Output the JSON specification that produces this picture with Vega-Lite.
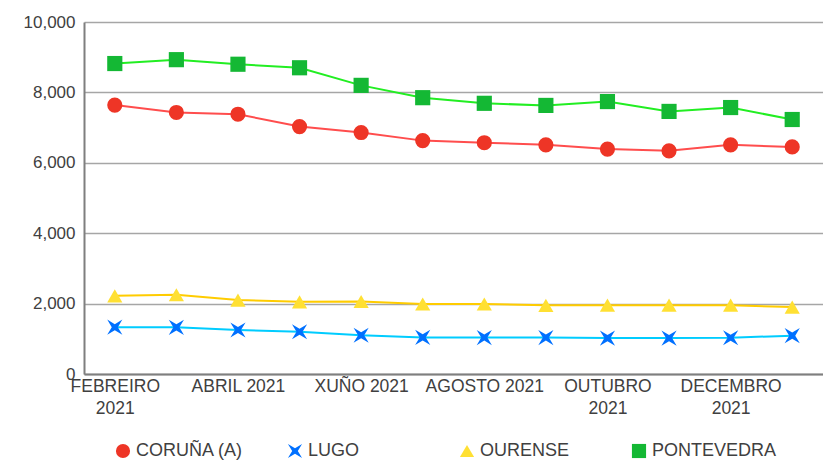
{
  "$schema": "https://vega.github.io/schema/vega-lite/v6.json",
  "width": 739,
  "height": 352,
  "autosize": {"type": "none"},
  "padding": {"left": 84, "top": 22, "right": 0, "bottom": 89},
  "background": "white",
  "config": {
    "font": "Liberation Sans",
    "view": {"stroke": null}
  },
  "data": {
    "values": [
      {"mes": "FEBREIRO 2021", "provincia": "CORUÑA (A)", "valor": 7640},
      {"mes": "MARZO 2021", "provincia": "CORUÑA (A)", "valor": 7430},
      {"mes": "ABRIL 2021", "provincia": "CORUÑA (A)", "valor": 7380},
      {"mes": "MAIO 2021", "provincia": "CORUÑA (A)", "valor": 7030},
      {"mes": "XUÑO 2021", "provincia": "CORUÑA (A)", "valor": 6860},
      {"mes": "XULLO 2021", "provincia": "CORUÑA (A)", "valor": 6630},
      {"mes": "AGOSTO 2021", "provincia": "CORUÑA (A)", "valor": 6570},
      {"mes": "SETEMBRO 2021", "provincia": "CORUÑA (A)", "valor": 6510},
      {"mes": "OUTUBRO 2021", "provincia": "CORUÑA (A)", "valor": 6390},
      {"mes": "NOVEMBRO 2021", "provincia": "CORUÑA (A)", "valor": 6340},
      {"mes": "DECEMBRO 2021", "provincia": "CORUÑA (A)", "valor": 6510},
      {"mes": "XANEIRO 2022", "provincia": "CORUÑA (A)", "valor": 6450},
      {"mes": "FEBREIRO 2021", "provincia": "LUGO", "valor": 1330},
      {"mes": "MARZO 2021", "provincia": "LUGO", "valor": 1325},
      {"mes": "ABRIL 2021", "provincia": "LUGO", "valor": 1250},
      {"mes": "MAIO 2021", "provincia": "LUGO", "valor": 1200},
      {"mes": "XUÑO 2021", "provincia": "LUGO", "valor": 1100},
      {"mes": "XULLO 2021", "provincia": "LUGO", "valor": 1040},
      {"mes": "AGOSTO 2021", "provincia": "LUGO", "valor": 1035},
      {"mes": "SETEMBRO 2021", "provincia": "LUGO", "valor": 1035},
      {"mes": "OUTUBRO 2021", "provincia": "LUGO", "valor": 1020},
      {"mes": "NOVEMBRO 2021", "provincia": "LUGO", "valor": 1020},
      {"mes": "DECEMBRO 2021", "provincia": "LUGO", "valor": 1030},
      {"mes": "XANEIRO 2022", "provincia": "LUGO", "valor": 1090},
      {"mes": "FEBREIRO 2021", "provincia": "OURENSE", "valor": 2220},
      {"mes": "MARZO 2021", "provincia": "OURENSE", "valor": 2250},
      {"mes": "ABRIL 2021", "provincia": "OURENSE", "valor": 2100},
      {"mes": "MAIO 2021", "provincia": "OURENSE", "valor": 2050},
      {"mes": "XUÑO 2021", "provincia": "OURENSE", "valor": 2060},
      {"mes": "XULLO 2021", "provincia": "OURENSE", "valor": 1990},
      {"mes": "AGOSTO 2021", "provincia": "OURENSE", "valor": 1990},
      {"mes": "SETEMBRO 2021", "provincia": "OURENSE", "valor": 1950},
      {"mes": "OUTUBRO 2021", "provincia": "OURENSE", "valor": 1955},
      {"mes": "NOVEMBRO 2021", "provincia": "OURENSE", "valor": 1955},
      {"mes": "DECEMBRO 2021", "provincia": "OURENSE", "valor": 1955},
      {"mes": "XANEIRO 2022", "provincia": "OURENSE", "valor": 1900},
      {"mes": "FEBREIRO 2021", "provincia": "PONTEVEDRA", "valor": 8820},
      {"mes": "MARZO 2021", "provincia": "PONTEVEDRA", "valor": 8930},
      {"mes": "ABRIL 2021", "provincia": "PONTEVEDRA", "valor": 8800},
      {"mes": "MAIO 2021", "provincia": "PONTEVEDRA", "valor": 8700},
      {"mes": "XUÑO 2021", "provincia": "PONTEVEDRA", "valor": 8200},
      {"mes": "XULLO 2021", "provincia": "PONTEVEDRA", "valor": 7850},
      {"mes": "AGOSTO 2021", "provincia": "PONTEVEDRA", "valor": 7690},
      {"mes": "SETEMBRO 2021", "provincia": "PONTEVEDRA", "valor": 7630},
      {"mes": "OUTUBRO 2021", "provincia": "PONTEVEDRA", "valor": 7740},
      {"mes": "NOVEMBRO 2021", "provincia": "PONTEVEDRA", "valor": 7460},
      {"mes": "DECEMBRO 2021", "provincia": "PONTEVEDRA", "valor": 7570},
      {"mes": "XANEIRO 2022", "provincia": "PONTEVEDRA", "valor": 7230}
    ]
  },
  "encoding": {
    "x": {
      "field": "mes",
      "type": "nominal",
      "sort": null,
      "scale": {"type": "point", "padding": 0.5},
      "axis": {
        "title": null,
        "labelAngle": 0,
        "labelOverlap": false,
        "labelFontSize": 17.5,
        "labelColor": "#404040",
        "labelPadding": 3,
        "labelLineHeight": 22,
        "labelLimit": 200,
        "ticks": false,
        "domainColor": "#7f7f7f",
        "domainWidth": 2,
        "grid": false,
        "labelExpr": "indexof(['MARZO 2021','MAIO 2021','XULLO 2021','SETEMBRO 2021','NOVEMBRO 2021','XANEIRO 2022'], datum.value) >= 0 ? '' : (indexof(['FEBREIRO 2021','OUTUBRO 2021','DECEMBRO 2021'], datum.value) >= 0 ? split(datum.value, ' ') : datum.value)"
      }
    },
    "y": {
      "field": "valor",
      "type": "quantitative",
      "scale": {"domain": [0, 10000], "nice": false},
      "axis": {
        "title": null,
        "values": [0, 2000, 4000, 6000, 8000, 10000],
        "format": ",.0f",
        "labelFontSize": 17,
        "labelColor": "#404040",
        "labelPadding": 9,
        "ticks": false,
        "domainColor": "#7f7f7f",
        "domainWidth": 2,
        "gridColor": "#a6a6a6",
        "gridWidth": 1.3
      }
    }
  },
  "layer": [
    {
      "mark": {"type": "line", "strokeWidth": 2},
      "encoding": {
        "color": {
          "field": "provincia",
          "type": "nominal",
          "scale": {
            "domain": ["CORUÑA (A)", "LUGO", "OURENSE", "PONTEVEDRA"],
            "range": ["#ff4d4d", "#00ccff", "#ffcc00", "#22ee22"]
          },
          "legend": null
        }
      }
    },
    {
      "mark": {"type": "point", "filled": true, "opacity": 1, "size": 230},
      "encoding": {
        "color": {
          "field": "provincia",
          "type": "nominal",
          "scale": {
            "domain": ["CORUÑA (A)", "LUGO", "OURENSE", "PONTEVEDRA"],
            "range": ["#ee3526", "#0070ff", "#ffe033", "#14b834"]
          },
          "legend": {
            "title": null,
            "orient": "none",
            "legendX": 30,
            "legendY": 420,
            "direction": "horizontal",
            "columns": 4,
            "gridAlign": "all",
            "labelFontSize": 18,
            "labelColor": "#404040",
            "symbolSize": 200,
            "symbolOpacity": 1,
            "columnPadding": 25,
            "labelOffset": 4,
            "labelLimit": 200,
            "encode": {
              "symbols": {
                "update": {
                  "shape": {"signal": "datum.value === 'LUGO' ? 'M-1,-1L-0.4,0L-1,1L0,0.4L1,1L0.4,0L1,-1L0,-0.4Z' : datum.value === 'OURENSE' ? 'triangle-up' : datum.value === 'PONTEVEDRA' ? 'square' : 'circle'"}
                }
              }
            }
          }
        },
        "shape": {
          "field": "provincia",
          "type": "nominal",
          "scale": {
            "domain": ["CORUÑA (A)", "LUGO", "OURENSE", "PONTEVEDRA"],
            "range": ["circle", "M-1,-1L-0.4,0L-1,1L0,0.4L1,1L0.4,0L1,-1L0,-0.4Z", "triangle-up", "square"]
          },
          "legend": null
        }
      }
    }
  ],
  "resolve": {"scale": {"color": "independent"}, "legend": {"color": "independent"}}
}
